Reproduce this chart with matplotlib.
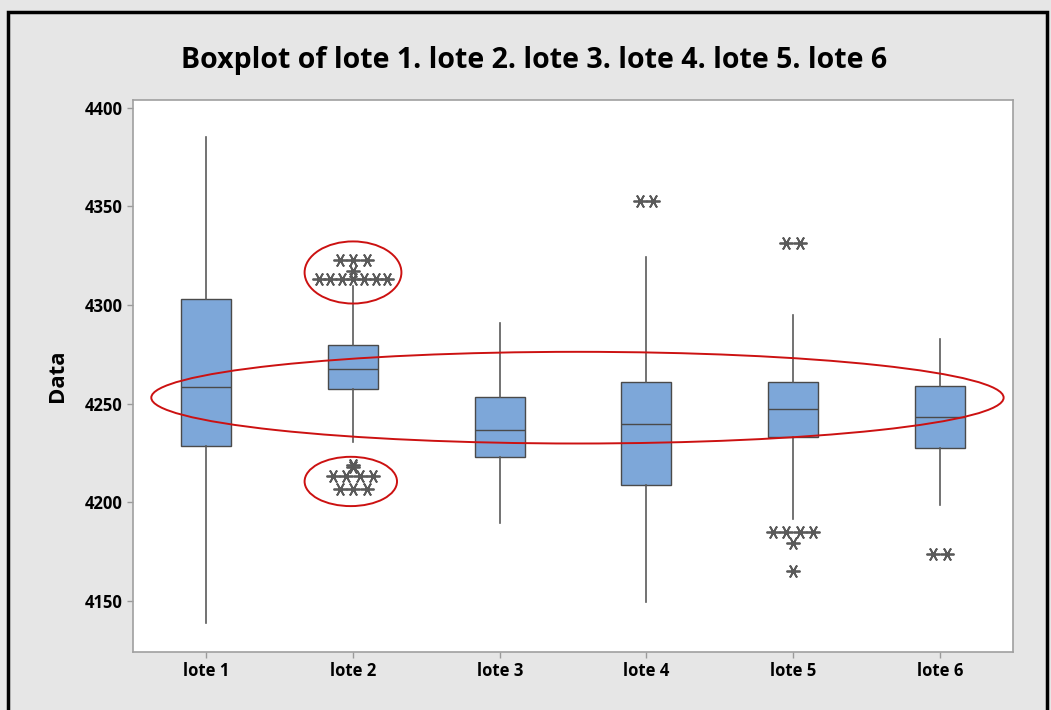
import matplotlib
matplotlib.use("Agg")
import matplotlib.pyplot as plt
from matplotlib.patches import Ellipse, Rectangle
from collections import Counter

# ---- data ----
categories = ["lote 1", "lote 2", "lote 3", "lote 4", "lote 5", "lote 6"]
q1 = [4228.6, 4257.5, 4223.0, 4208.8, 4233.2, 4227.6]
median = [4258.5, 4267.6, 4236.7, 4239.8, 4247.4, 4243.3]
q3 = [4303.0, 4279.5, 4253.4, 4261.0, 4261.0, 4259.0]
whisker_low = [4138.8, 4230.6, 4189.6, 4149.5, 4191.6, 4198.7]
whisker_high = [4385.0, 4309.5, 4291.0, 4324.4, 4295.0, 4282.9]
outliers = [
    [],
    [4323.0] * 3 + [4313.0] * 7 + [4317.0] + [4213.4] * 4 + [4206.8] * 3 + [4219.0, 4218.0],
    [],
    [4352.8] * 2,
    [4331.5] * 2 + [4185.0] * 4 + [4179.4] + [4165.2],
    [4173.8] * 2,
]
yticks = [4150, 4200, 4250, 4300, 4350, 4400]

FONT = "Open Sans"

fig = plt.figure(figsize=(10.51, 7.10), dpi=100)
fig.patch.set_facecolor("#E6E6E6")
ax = fig.add_axes([0.1265, 0.0817, 0.8375, 0.7775])
ax.set_facecolor("white")

stats = []
for i, c in enumerate(categories):
    stats.append(dict(label=c, q1=q1[i], med=median[i], q3=q3[i],
                      whislo=whisker_low[i], whishi=whisker_high[i], fliers=[]))
positions = list(range(1, len(categories) + 1))
ax.bxp(stats, positions=positions, widths=0.34, patch_artist=True, showcaps=False,
       boxprops=dict(facecolor="#7DA7D9", edgecolor="#4A4A4A", linewidth=1.0),
       medianprops=dict(color="#4A4A4A", linewidth=1.0),
       whiskerprops=dict(color="#5A5A5A", linewidth=1.2), zorder=2)

# outliers: identical values are spread horizontally (Minitab style)
for pos, vals in zip(positions, outliers):
    counts = Counter(vals)
    xs, ys = [], []
    for v, n in counts.items():
        step = 0.092 if n <= 4 else 0.077
        for k in range(n):
            xs.append(pos + (k - (n - 1) / 2) * step)
            ys.append(v)
    if xs:
        ax.plot(xs, ys, linestyle="none", marker=(6, 2, 30), markersize=10,
                markeredgecolor="#5A5A5A", markeredgewidth=1.3, zorder=3)

ax.set_xlim(0.5, 6.5)
ax.set_ylim(4124, 4404)
ax.set_xticks(positions)
ax.set_xticklabels(categories, fontsize=12, fontweight="bold", family=FONT)
ax.set_yticks(yticks)
ax.set_yticklabels([str(t) for t in yticks], fontsize=12, fontweight="bold", family=FONT)
ax.tick_params(colors="#9A9A9A", labelcolor="black", length=4, width=1)
for s in ax.spines.values():
    s.set_color("#A0A0A0")
    s.set_linewidth(1.2)
ax.set_ylabel("Data", fontsize=16, fontweight="bold", family=FONT, labelpad=12)

fig.text(0.508, 0.915, "Boxplot of lote 1. lote 2. lote 3. lote 4. lote 5. lote 6",
         ha="center", va="center", fontsize=20.5, fontweight="bold", family=FONT)

# red annotation ellipses
red = "#CC1111"
ax.add_patch(Ellipse((2.0, 4316.5), 0.66, 31.5, fill=False, edgecolor=red, lw=1.4, zorder=4))
ax.add_patch(Ellipse((1.985, 4210.5), 0.63, 25.0, fill=False, edgecolor=red, lw=1.4, zorder=4))
ax.add_patch(Ellipse((3.53, 4253.0), 5.81, 46.5, fill=False, edgecolor=red, lw=1.4, zorder=4))

# figure border (left, top, right)
fig.add_artist(Rectangle((0.0076, -0.05), 0.9885, 1.0331, transform=fig.transFigure,
                         fill=False, edgecolor="black", lw=2.5))

fig.savefig("out.png", dpi=100, facecolor=fig.get_facecolor())
